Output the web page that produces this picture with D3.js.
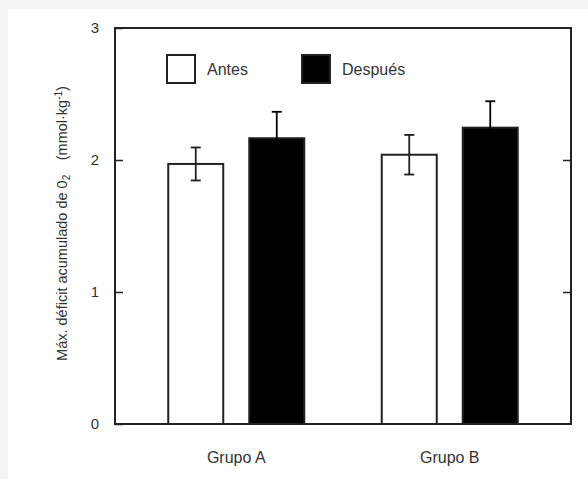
<!DOCTYPE html>
<html>
<head>
<meta charset="utf-8">
<script src="https://cdn.jsdelivr.net/npm/d3@7"></script>
<style>
  html, body { margin: 0; padding: 0; background: #f4f4f4; }
  svg { display: block; }
  text { font-family: "Liberation Sans", Arial, Helvetica, sans-serif; fill: #333; }
</style>
</head>
<body>
<svg id="chart" width="588" height="479"></svg>
<script>
// ---- data ----
const groups = ["Grupo A", "Grupo B"];
const series = ["Antes", "Después"];
const antesValues = [1.97, 2.04];
const antesErrors = [0.125, 0.15];
const despuesValues = [2.165, 2.245];
const despuesErrors = [0.2, 0.2];
const yTicks = [0, 1, 2, 3];

const svg = d3.select("#chart");
svg.append("rect").attr("x", 8).attr("y", 9).attr("width", 580).attr("height", 470).attr("fill", "#ffffff");

const frame = { left: 115, right: 571, top: 28, bottom: 424 };

const y = d3.scaleLinear().domain([0, 3]).range([frame.bottom, frame.top]);
const x0 = d3.scaleBand().domain(groups).range([129.5, 556.5]).padding(0);
const x1 = d3.scaleBand().domain(series)
  .range([(x0.bandwidth() - 136) / 2, (x0.bandwidth() + 136) / 2])
  .paddingInner(26 / 81).paddingOuter(0);

const data = [];
groups.forEach((g, i) => {
  data.push({ group: g, series: "Antes", value: antesValues[i], err: antesErrors[i] });
  data.push({ group: g, series: "Después", value: despuesValues[i], err: despuesErrors[i] });
});
const fill = d3.scaleOrdinal().domain(series).range(["#ffffff", "#000000"]);
const errColor = d3.scaleOrdinal().domain(series).range(["#1e1e1e", "#000000"]);

// bars
const g = svg.append("g");
g.selectAll("rect.bar").data(data).join("rect")
  .attr("class", "bar")
  .attr("x", d => x0(d.group) + x1(d.series))
  .attr("y", d => y(d.value))
  .attr("width", x1.bandwidth())
  .attr("height", d => y(0) - y(d.value))
  .attr("fill", d => fill(d.series))
  .attr("stroke", "#222")
  .attr("stroke-width", 2);

// error bars
const cx = d => x0(d.group) + x1(d.series) + x1.bandwidth() / 2;
const eb = g.selectAll("g.err").data(data).join("g").attr("class", "err")
  .attr("stroke", d => errColor(d.series)).attr("stroke-width", 1.8);
eb.append("line").attr("x1", cx).attr("x2", cx)
  .attr("y1", d => y(d.value + d.err)).attr("y2", d => y(d.value - d.err));
eb.append("line").attr("x1", d => cx(d) - 5).attr("x2", d => cx(d) + 5)
  .attr("y1", d => y(d.value + d.err)).attr("y2", d => y(d.value + d.err));
eb.append("line").attr("x1", d => cx(d) - 5).attr("x2", d => cx(d) + 5)
  .attr("y1", d => y(d.value - d.err)).attr("y2", d => y(d.value - d.err));

// frame
svg.append("rect")
  .attr("x", frame.left).attr("y", frame.top)
  .attr("width", frame.right - frame.left).attr("height", frame.bottom - frame.top)
  .attr("fill", "none").attr("stroke", "#222").attr("stroke-width", 2);

// axes
const yAxisL = d3.axisLeft(y).tickValues(yTicks).tickSizeInner(-8).tickSizeOuter(0).tickPadding(16)
  .tickFormat(d3.format("d"));
const gl = svg.append("g").attr("transform", `translate(${frame.left},0)`).call(yAxisL);
gl.select(".domain").remove();
gl.selectAll(".tick line").attr("stroke", "#222").attr("stroke-width", 1.5);
gl.selectAll(".tick text").style("font-size", "15px").attr("fill", "#333");

const yAxisR = d3.axisRight(y).tickValues([1, 2]).tickSizeInner(-8).tickSizeOuter(0).tickFormat("");
const gr = svg.append("g").attr("transform", `translate(${frame.right},0)`).call(yAxisR);
gr.select(".domain").remove();
gr.selectAll(".tick line").attr("stroke", "#222").attr("stroke-width", 1.5);

const xAxis = d3.axisBottom(x0).tickSize(0).tickPadding(28);
const gx = svg.append("g").attr("transform", `translate(0,${frame.bottom})`).call(xAxis);
gx.select(".domain").remove();
gx.selectAll(".tick text").style("font-size", "16px").attr("fill", "#333");

// y title
const yt = svg.append("text")
  .attr("transform", `translate(67,${(82 + 365) / 2}) rotate(-90)`)
  .attr("text-anchor", "middle")
  .style("font-size", "14.5px");
yt.append("tspan").text("Máx. déficit acumulado de 0");
yt.append("tspan").attr("dy", 3).style("font-size", "10px").text("2");
yt.append("tspan").attr("dy", -3).text("\u2002\u2002(mmol·kg");
yt.append("tspan").attr("dy", -5).style("font-size", "10px").text("-1");
yt.append("tspan").attr("dy", 5).text(")");

// legend
const legend = svg.append("g");
const legX = [167, 302];
series.forEach((s, i) => {
  legend.append("rect").attr("x", legX[i]).attr("y", 55).attr("width", 28).attr("height", 28)
    .attr("fill", fill(s)).attr("stroke", "#222").attr("stroke-width", 2);
  legend.append("text").attr("x", legX[i] + 40).attr("y", 69).attr("dy", "0.35em")
    .style("font-size", "16px").text(s);
});
</script>
</body>
</html>
